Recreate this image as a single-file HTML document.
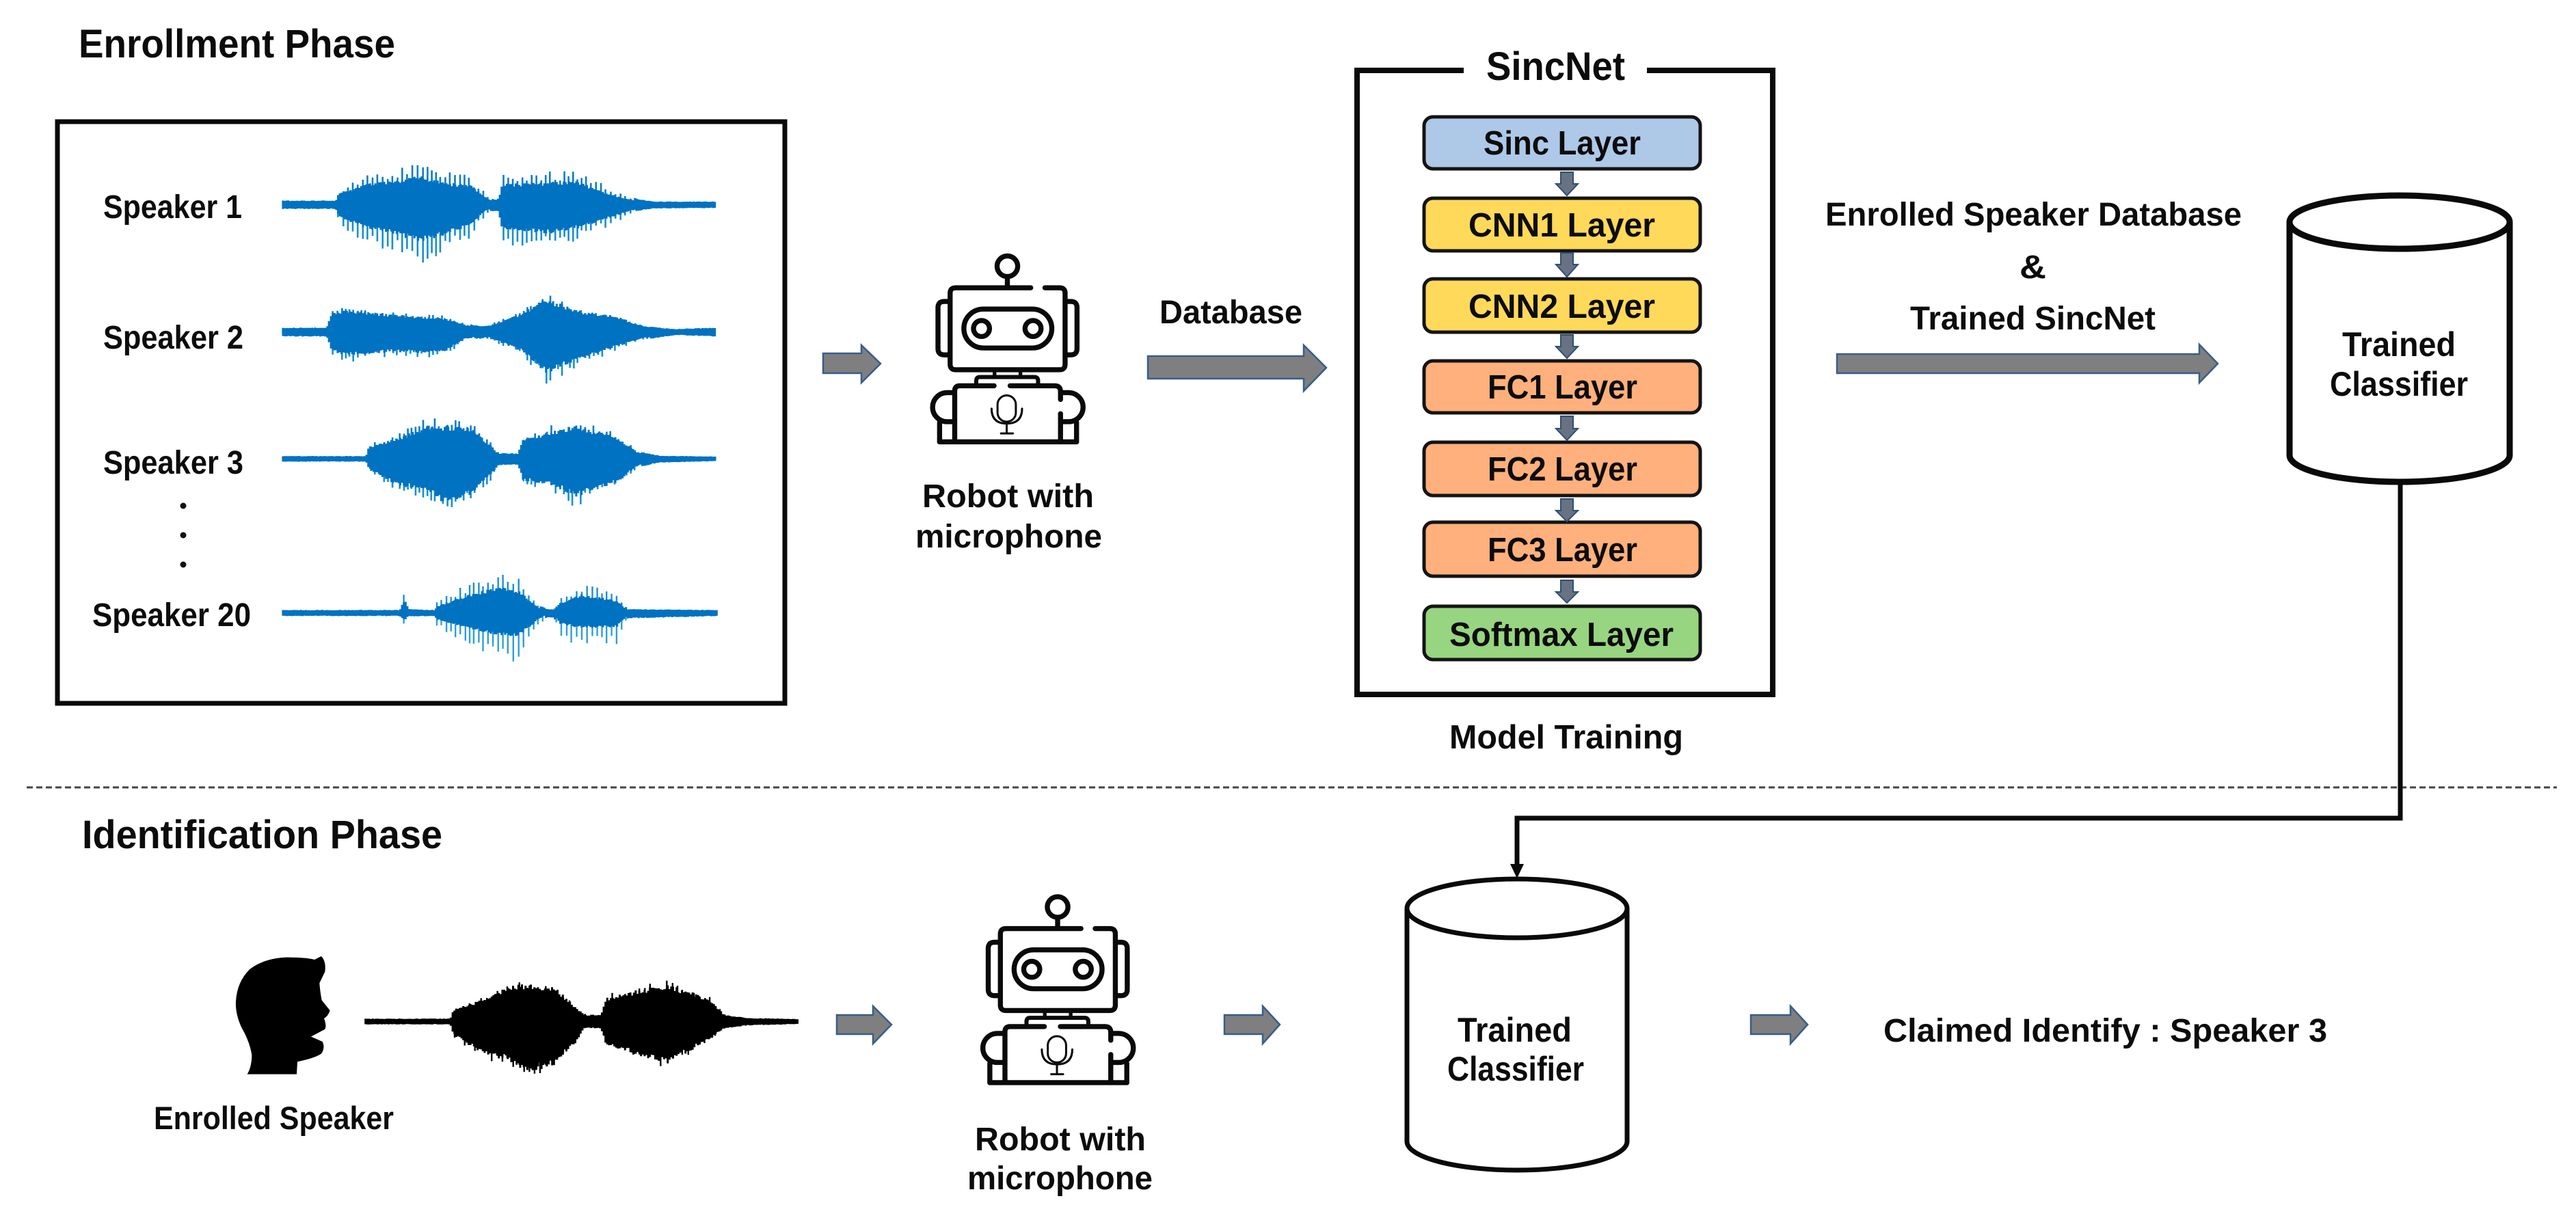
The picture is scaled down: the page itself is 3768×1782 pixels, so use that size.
<!DOCTYPE html>
<html><head><meta charset="utf-8"><title>SincNet speaker identification</title>
<style>
html,body{margin:0;padding:0;background:#fff}
svg{display:block}
text{font-family:"Liberation Sans","Noto Sans CJK KR",sans-serif;font-weight:700;fill:#0c0c0c}
.big{fill:#7f7f7f;stroke:#385d8a;stroke-width:2.5}
.sm{fill:#677282;stroke:#2f4f70;stroke-width:2}
.ly{stroke:#141414;stroke-width:5}
.r{fill:none;stroke:#0a0a0a;stroke-width:22;stroke-linecap:round;stroke-linejoin:round}
</style></head><body>
<svg id="s" xmlns="http://www.w3.org/2000/svg" width="3768" height="1782" viewBox="0 0 3768 1782">
<defs>
<g id="robot" transform="scale(.335)">
<circle class="r" cx="518" cy="118" r="45"/>
<path class="r" d="M518 165V212M620 212H292Q268 212 268 236V546Q268 570 292 570H746Q770 570 770 546V236Q770 212 746 212H682"/>
<path class="r" d="M262 272H242Q215 272 215 299V478Q215 505 242 505H262M778 272H795Q822 272 822 299V478Q822 505 795 505H778"/>
<rect class="r" x="328" y="305" width="384" height="170" rx="85"/>
<circle class="r" cx="405" cy="390" r="35"/><circle class="r" cx="630" cy="390" r="35"/>
<path class="r" style="stroke-width:16" d="M462 572V598M575 572V598"/>
<path class="r" style="stroke-width:18" d="M382 628V618Q382 602 398 602H636Q652 602 652 618V628"/>
<path class="r" d="M460 640H310Q288 640 288 662V885M530 640H725Q750 640 750 665V700M750 762V885M222 885H820"/>
<path class="r" d="M280 670H255A63 63 0 0 0 255 797H285M755 670H785A63 63 0 0 1 785 797H755M222 800V885M820 800V885"/>
<rect class="r" style="stroke-width:9" x="475" y="682" width="80" height="115" rx="40"/>
<path class="r" style="stroke-width:9" d="M449 740Q449 805 515 805Q582 805 582 740M515 805V848M490 848H542"/>
</g>
</defs>
<rect width="3768" height="1782" fill="#fff"/>

<text x="115" y="84" font-size="58" textLength="463" lengthAdjust="spacingAndGlyphs">Enrollment Phase</text>
<rect x="84" y="178" width="1064" height="851" fill="#fff" stroke="#0a0a0a" stroke-width="7"/>
<g id="waves"></g>
<g font-size="48">
<text x="151" y="319" textLength="203" lengthAdjust="spacingAndGlyphs">Speaker 1</text>
<text x="151" y="510" textLength="205" lengthAdjust="spacingAndGlyphs">Speaker 2</text>
<text x="151" y="693" textLength="205" lengthAdjust="spacingAndGlyphs">Speaker 3</text>
<text x="135" y="916" textLength="232" lengthAdjust="spacingAndGlyphs">Speaker 20</text>
</g>
<circle cx="268" cy="740" r="4.5" fill="#111"/><circle cx="268" cy="783" r="4.5" fill="#111"/><circle cx="268" cy="826" r="4.5" fill="#111"/>

<polygon class="big" points="1204,517 1260,517 1260,505 1288,532 1260,560 1260,546 1204,546"/>
<use href="#robot" transform="translate(1300,350)"/>
<g font-size="48">
<text x="1349" y="742" textLength="251" lengthAdjust="spacingAndGlyphs">Robot with</text>
<text x="1339" y="801" textLength="273" lengthAdjust="spacingAndGlyphs">microphone</text>
<text x="1696" y="473" textLength="209" lengthAdjust="spacingAndGlyphs">Database</text>
</g>
<polygon class="big" points="1679,521 1907,521 1907,505 1940,538 1907,572 1907,554 1679,554"/>

<path d="M2141 103H1985V1016H2593V103H2409" fill="none" stroke="#0a0a0a" stroke-width="8"/>
<text x="2174" y="117" font-size="58" textLength="203" lengthAdjust="spacingAndGlyphs">SincNet</text>
<rect class="ly" x="2083" y="171" width="404" height="76" rx="13" fill="#aec8e8"/>
<rect class="ly" x="2083" y="290" width="404" height="77" rx="13" fill="#ffd95a"/>
<rect class="ly" x="2083" y="408" width="404" height="78" rx="13" fill="#ffd95a"/>
<rect class="ly" x="2083" y="528" width="404" height="76" rx="13" fill="#ffb07c"/>
<rect class="ly" x="2083" y="647" width="404" height="78" rx="13" fill="#ffb07c"/>
<rect class="ly" x="2083" y="764" width="404" height="79" rx="13" fill="#ffb07c"/>
<rect class="ly" x="2083" y="887" width="404" height="78" rx="13" fill="#97d580"/>
<g font-size="49">
<text x="2170" y="226" textLength="230" lengthAdjust="spacingAndGlyphs">Sinc Layer</text>
<text x="2148" y="346" textLength="273" lengthAdjust="spacingAndGlyphs">CNN1 Layer</text>
<text x="2148" y="465" textLength="273" lengthAdjust="spacingAndGlyphs">CNN2 Layer</text>
<text x="2176" y="583" textLength="219" lengthAdjust="spacingAndGlyphs">FC1 Layer</text>
<text x="2176" y="703" textLength="219" lengthAdjust="spacingAndGlyphs">FC2 Layer</text>
<text x="2176" y="821" textLength="219" lengthAdjust="spacingAndGlyphs">FC3 Layer</text>
<text x="2120" y="945" textLength="328" lengthAdjust="spacingAndGlyphs">Softmax Layer</text>
<text x="2120" y="1095" textLength="342" lengthAdjust="spacingAndGlyphs">Model Training</text>
</g>
<polygon class="sm" points="2283,252 2301,252 2301,269 2308,269 2292,286 2276,269 2283,269"/>
<polygon class="sm" points="2283,370 2301,370 2301,387 2308,387 2292,405 2276,387 2283,387"/>
<polygon class="sm" points="2283,490 2301,490 2301,507 2308,507 2292,524 2276,507 2283,507"/>
<polygon class="sm" points="2283,609 2301,609 2301,627 2308,627 2292,644 2276,627 2283,627"/>
<polygon class="sm" points="2283,730 2301,730 2301,747 2308,747 2292,763 2276,747 2283,747"/>
<polygon class="sm" points="2283,849 2301,849 2301,866 2308,866 2292,882 2276,866 2283,866"/>

<g font-size="48">
<text x="2670" y="330" textLength="609" lengthAdjust="spacingAndGlyphs">Enrolled Speaker Database</text>
<text x="2954" y="407" textLength="39" lengthAdjust="spacingAndGlyphs">&amp;</text>
<text x="2794" y="482" textLength="359" lengthAdjust="spacingAndGlyphs">Trained SincNet</text>
</g>
<polygon class="big" points="2687,518 3217,518 3217,504 3244,532 3217,560 3217,546 2687,546"/>

<path d="M3349 325V666A161 39 0 0 0 3671 666V325" fill="#fff" stroke="#0a0a0a" stroke-width="9"/>
<ellipse cx="3510" cy="325" rx="161" ry="39" fill="#fff" stroke="#0a0a0a" stroke-width="9"/>
<g font-size="50">
<text x="3426" y="521" textLength="166" lengthAdjust="spacingAndGlyphs">Trained</text>
<text x="3408" y="579" textLength="202" lengthAdjust="spacingAndGlyphs">Classifier</text>
</g>

<line x1="39" y1="1152" x2="3740" y2="1152" stroke="#444" stroke-width="3" stroke-dasharray="9 5"/>
<path d="M3511 705V1197H2219V1268" fill="none" stroke="#0a0a0a" stroke-width="7"/>
<polygon points="2209,1264 2229,1264 2219,1285" fill="#0a0a0a"/>

<text x="120" y="1241" font-size="58" textLength="527" lengthAdjust="spacingAndGlyphs">Identification Phase</text>
<path transform="translate(320,1380) scale(.3333)" fill="#000" d="M125 575Q145 540 145 490Q135 430 100 370Q72 310 75 255Q80 170 135 115Q200 65 300 62Q380 62 420 72L450 57Q472 80 466 125L442 175Q445 215 452 250L488 295Q480 320 462 330Q475 365 465 378L405 410L455 432Q468 460 450 485Q420 505 345 520L342 575Z"/>
<text x="225" y="1652" font-size="47" textLength="351" lengthAdjust="spacingAndGlyphs">Enrolled Speaker</text>

<polygon class="big" points="1224,1485 1277,1485 1277,1472 1304,1499 1277,1527 1277,1513 1224,1513"/>
<use href="#robot" transform="translate(1373.5,1287.5)"/>
<g font-size="48">
<text x="1426" y="1683" textLength="250" lengthAdjust="spacingAndGlyphs">Robot with</text>
<text x="1415" y="1740" textLength="271" lengthAdjust="spacingAndGlyphs">microphone</text>
</g>
<polygon class="big" points="1791,1485 1847,1485 1847,1472 1872,1499 1847,1527 1847,1513 1791,1513"/>
<path d="M2058 1329V1670A161 42 0 0 0 2380 1670V1329" fill="#fff" stroke="#0a0a0a" stroke-width="7"/>
<ellipse cx="2219" cy="1329" rx="161" ry="43" fill="#fff" stroke="#0a0a0a" stroke-width="7"/>
<g font-size="50">
<text x="2132" y="1524" textLength="167" lengthAdjust="spacingAndGlyphs">Trained</text>
<text x="2117" y="1581" textLength="200" lengthAdjust="spacingAndGlyphs">Classifier</text>
</g>
<polygon class="big" points="2561,1485 2619,1485 2619,1472 2644,1499 2619,1527 2619,1513 2561,1513"/>
<text x="2755" y="1524" font-size="48" textLength="649" lengthAdjust="spacingAndGlyphs">Claimed Identify : Speaker 3</text>
</svg>
<script>
(function(){
var seed=12345;function R(){seed=(seed*1664525+1013904223)%4294967296;return seed/4294967296;}
var g=document.getElementById('waves'),NS='http://www.w3.org/2000/svg';
function add(d,c,w){var p=document.createElementNS(NS,'path');p.setAttribute('d',d);p.setAttribute('stroke',c);p.setAttribute('stroke-width',w);p.setAttribute('fill','none');g.appendChild(p);}
function W(cT,cB,cC,sx,sy,ox,oy,cz,pts,kT,kB,per,sw){
 var cy=cz*sy+oy,x0=pts[0][0]*sx+ox,x1=pts[pts.length-1][0]*sx+ox;
 function env(x){var z=(x-ox)/sx;for(var i=1;i<pts.length;i++){if(z<=pts[i][0]){var a=pts[i-1],b=pts[i],t=(z-a[0])/(b[0]-a[0]||1);return [a[1]+(b[1]-a[1])*t,a[2]+(b[2]-a[2])*t];}}var l=pts[pts.length-1];return [l[1],l[2]];}
 var dT='',dB='',d='',x,e,tp,bt;
 for(x=x0;x<x1;x+=per*(.85+.3*R())){e=env(x);tp=(cz-e[0])*sy;bt=(e[1]-cz)*sy;
  dT+='M'+x.toFixed(1)+' '+cy+'V'+(cy-tp*(.68+.32*R())).toFixed(1);
  dB+='M'+x.toFixed(1)+' '+cy+'V'+(cy+bt*(.68+.32*R())).toFixed(1);}
 add(dT,cT,sw);add(dB,cB,sw);
 for(x=x0;x<x1;x+=2.6){e=env(x);tp=(cz-e[0])*sy;bt=(e[1]-cz)*sy;
  var a1=tp<11?1:kT,a2=bt<11?1:kB;
  d+='M'+x.toFixed(1)+' '+(cy-tp*a1*(.84+.16*R())).toFixed(1)+'V'+(cy+bt*a2*(.84+.16*R())).toFixed(1);}
 add(d,cC,3);
}
var b='#0072c2',sx=.765,sy=.7015;
W('#0a7cc8','#168fd0',b,sx,sy,0,0,427,[[541,418,436],[640,418,436],[650,390,470],[700,360,510],[760,350,530],[800,335,555],[850,355,530],[900,365,500],[930,405,445],[945,415,440],[952,415,440],[960,360,510],[1050,355,525],[1100,350,510],[1170,395,470],[1220,415,440],[1250,420,435],[1368,420,434]],.66,.62,7,2.6);
W('#0a7cc8','#168fd0',b,sx,sy,0,0,692,[[541,683,702],[625,683,702],[635,645,745],[670,640,755],[750,650,745],[800,655,748],[850,658,745],[890,675,710],[930,680,705],[1000,645,745],[1045,612,805],[1100,640,770],[1180,655,730],[1230,680,710],[1290,686,699],[1368,683,702]],.88,.8,6,2.6);
W('#0a7cc8','#168fd0',b,sx,sy,0,0,957,[[541,951,963],[700,951,963],[705,925,985],[760,905,1030],[815,870,1040],[850,872,1078],[900,875,1055],[940,925,1000],[955,945,970],[990,945,970],[1000,905,1015],[1060,885,1030],[1100,870,1060],[1180,900,1020],[1220,940,975],[1260,950,965],[1368,952,962]],.82,.78,6,2.6);
W('#1e8ed2','#2c9fd8',b,sx,sy,0,0,1278,[[541,1272,1285],[765,1272,1285],[770,1240,1310],[776,1240,1310],[782,1270,1286],[830,1272,1285],[835,1255,1310],[880,1225,1340],[950,1190,1385],[990,1200,1390],[1030,1260,1310],[1045,1270,1288],[1060,1270,1288],[1070,1245,1330],[1110,1215,1350],[1180,1235,1345],[1200,1270,1290],[1373,1272,1285]],.62,.45,7,2.4);
W('#000','#000','#000',.829,.435,0,1100,907,[[645,897,917],[795,897,917],[800,860,960],[850,825,1030],[900,770,1060],[925,765,1105],[975,770,1080],[1020,860,980],[1030,880,930],[1060,885,930],[1070,815,1000],[1130,785,1040],[1180,765,1070],[1250,820,980],[1280,885,930],[1320,895,920],[1408,898,916]],.9,.88,8,2.4);
})();
</script>
</body></html>
